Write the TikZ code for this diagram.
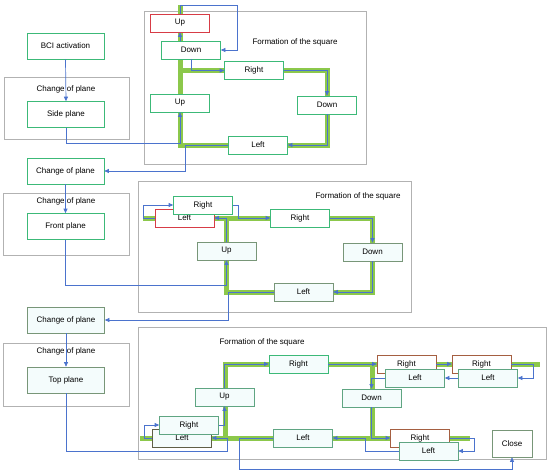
\documentclass[tikz,border=0pt]{standalone}
\usepackage{fontspec}
\setmainfont{Liberation Sans}
\usetikzlibrary{arrows.meta,backgrounds}

\definecolor{boxgreen}{RGB}{60,185,120}
\definecolor{boxteal}{RGB}{95,165,130}
\definecolor{boxgray}{RGB}{120,150,120}
\definecolor{boxred}{RGB}{215,60,70}
\definecolor{boxbrown}{RGB}{165,95,65}
\definecolor{boxdark}{RGB}{95,95,70}
\definecolor{panelgray}{RGB}{178,178,178}
\definecolor{routegreen}{RGB}{140,200,75}
\definecolor{linkblue}{RGB}{75,115,205}
\definecolor{palefill}{RGB}{244,252,252}

\tikzset{
  stepbox/.style={draw=boxgreen, fill=white, line width=0.7pt, minimum width=59pt,
    minimum height=18pt, inner sep=0pt, font=\fontsize{8}{9}\selectfont},
  planebox/.style={stepbox, minimum width=77pt, minimum height=26pt},
  panel/.style={draw=panelgray, line width=0.6pt},
  route/.style={draw=routegreen, line width=5pt},
  link/.style={draw=linkblue, line width=0.7pt, -{Triangle[length=4.5pt,width=4pt]}},
  caption/.style={font=\fontsize{8}{9}\selectfont, inner sep=0pt},
}

\begin{document}
\begin{tikzpicture}[x=1pt, y=-1pt, line join=miter]

  %% ════ 左列：平面切换 ════
  \node[planebox] (bci) at (65.5,46) {BCI activation};
  \node[caption] (grpA) at (66,89) {Change of plane};
  \node[planebox] (side) at (66,114.5) {Side plane};
  \node[planebox] (cpA) at (65.5,171) {Change of plane};
  \node[caption] (grpB) at (66,201) {Change of plane};
  \node[planebox] (front) at (65.5,226.5) {Front plane};
  \node[planebox, draw=boxgray, fill=palefill] (cpB) at (66,320) {Change of plane};
  \node[caption] (grpC) at (66,351) {Change of plane};
  \node[planebox, draw=boxgray, fill=palefill] (top) at (66,380) {Top plane};

  %% ════ 上框 ════
  \node[caption] (sqA) at (295,42) {Formation of the square};
  \node[stepbox, draw=boxred] (aUp) at (180,23) {Up};
  \node[stepbox] (aDown) at (191,50) {Down};
  \node[stepbox] (aRight) at (254,70.5) {Right};
  \node[stepbox] (aDown2) at (327,105) {Down};
  \node[stepbox] (aUp2) at (180,103) {Up};
  \node[stepbox] (aLeft) at (258,145) {Left};

  %% ════ 中框 ════
  \node[caption] (sqB) at (358,196) {Formation of the square};
  \node[stepbox, draw=boxred] (bLeft) at (184.5,218) {Left};
  \node[stepbox] (bRight) at (203,205) {Right};
  \node[stepbox] (bRight2) at (300,218) {Right};
  \node[stepbox, draw=boxgray, fill=palefill] (bUp) at (226.5,251) {Up};
  \node[stepbox, draw=boxgray, fill=palefill] (bDown) at (372.5,252) {Down};
  \node[stepbox, draw=boxgray, fill=palefill] (bLeft2) at (303.5,292) {Left};

  %% ════ 下框 ════
  \node[caption] (sqC) at (262,342) {Formation of the square};
  \node[stepbox, draw=boxteal, fill=palefill] (cUp) at (224.5,397) {Up};
  \node[stepbox, draw=boxdark, fill=palefill] (cLeft) at (182,438) {Left};
  \node[stepbox, draw=boxteal, fill=palefill] (cRight) at (189,425) {Right};
  \node[stepbox, fill=palefill] (cRight1) at (298.5,364) {Right};
  \node[stepbox, draw=boxbrown] (cRight2) at (406.5,364) {Right};
  \node[stepbox, draw=boxteal, fill=palefill] (cLeft2) at (415,378) {Left};
  \node[stepbox, draw=boxbrown] (cRight3) at (481.5,364) {Right};
  \node[stepbox, draw=boxteal, fill=palefill] (cLeft3) at (488,378) {Left};
  \node[stepbox, draw=boxteal, fill=palefill] (cDown) at (371.5,398) {Down};
  \node[stepbox, draw=boxteal, fill=palefill] (cLeft4) at (303,438) {Left};
  \node[stepbox, draw=boxbrown] (cRight4) at (420,438) {Right};
  \node[stepbox, draw=boxteal, fill=palefill] (cLeft5) at (428.5,451) {Left};
  \node[stepbox, draw=boxgray, minimum width=40pt, minimum height=27pt] (cClose) at (512,443.5) {Close};

  %% ════ 背景：外框 + 绿色轨迹 ════
  \begin{pgfonlayer}{background}
    \draw[panel] (4,77) rectangle (129,139);
    \draw[panel] (3,193) rectangle (129,255);
    \draw[panel] (3,343) rectangle (129,406);
    \draw[panel] (144,11) rectangle (366,164);
    \draw[panel] (138,181) rectangle (411,312);
    \draw[panel] (138,327) rectangle (546,459);

    % 上框
    \draw[route] (180,5) -- (180,145) -- (aLeft.west);
    \draw[route] (aLeft.east) -| (aDown2.south);
    \draw[route] (aDown2.north) |- (aRight.east);
    \draw[route] (aRight.west) -- (180,70.5);
    % 中框
    \draw[route] (143,218) -- (bLeft.west);
    \draw[route] (bLeft.east) -- (bRight2.west);
    \draw[route] (226.5,218) -- (226.5,292) -- (bLeft2.west);
    \draw[route] (bRight2.east) -| (bDown.north);
    \draw[route] (bDown.south) |- (bLeft2.east);
    % 下框
    \draw[route] (140,438) -- (cLeft.west);
    \draw[route] (cLeft.east) -- (cLeft4.west);
    \draw[route] (225,438) -- (225,364) -- (cRight1.west);
    \draw[route] (cRight1.east) -- (cRight2.west);
    \draw[route] (cRight2.east) -- (cRight3.west);
    \draw[route] (cRight3.east) -- (540,364);
    \draw[route] (372,364) -- (372,438);
    \draw[route] (cLeft4.east) -- (cRight4.west);
    \draw[route] (cRight4.east) -- (470,438);
  \end{pgfonlayer}

  %% ════ 蓝色连线 ════
  \draw[link] (bci.south) -- (side.north);
  \draw[link] (side.south) |- (180,143) -- (aUp2.south);
  \draw[link] (aUp.north) |- (237,5) |- (aDown.east);
  \draw[link] (aDown.north -| aUp.north) -- (aUp.south);
  \draw[link] (aDown.south) |- (aRight.west);
  \draw[link] (aRight.east) -| (aDown2.north);
  \draw[link] (aDown2.south) |- (aLeft.east);
  \draw[link] (aLeft.west) -| (185,171) -- (cpA.east);

  \draw[link] (cpA.south) -- (front.north);
  \draw[link] (front.south) |- (226.5,285) -- (bUp.south);
  \draw[link] (bUp.north) |- (bLeft.east);
  \draw[link] (bLeft.west) -- (143,218) |- (bRight.west);
  \draw[link] (bRight.east) -- (238,205) |- (bRight2.west);
  \draw[link] (bRight2.east) -| (bDown.north);
  \draw[link] (bDown.south) |- (bLeft2.east);
  \draw[link] (bLeft2.west) -| (228,320) -- (cpB.east);

  \draw[link] (cpB.south) -- (top.north);
  \draw[link] (top.south) |- (227,451) |- (cLeft.east);
  \draw[link] (cLeft.west) -- (144,438) |- (cRight.west);
  \draw[link] (cRight.east) -| (cUp.south);
  \draw[link] (cUp.north) |- (cRight1.west);
  \draw[link] (cRight1.east) -- (cRight2.west);
  \draw[link] (cRight2.east) -- (cRight3.west);
  \draw[link] (cRight3.east) -- (533,364) |- (cLeft3.east);
  \draw[link] (cLeft3.west) -- (cLeft2.east);
  \draw[link] (cLeft2.west) -| (cDown.north);
  \draw[link] (cDown.south) |- (cRight4.west);
  \draw[link] (cRight4.east) -- (474,438) |- (cLeft5.east);
  \draw[link] (cLeft5.west) -| (365,438) -- (cLeft4.east);
  \draw[link] (cLeft4.west) -| (239,469) -| (cClose.south);

  \pgfresetboundingbox
  \path[use as bounding box] (0,0) rectangle (550,474);
\end{tikzpicture}
\end{document}
